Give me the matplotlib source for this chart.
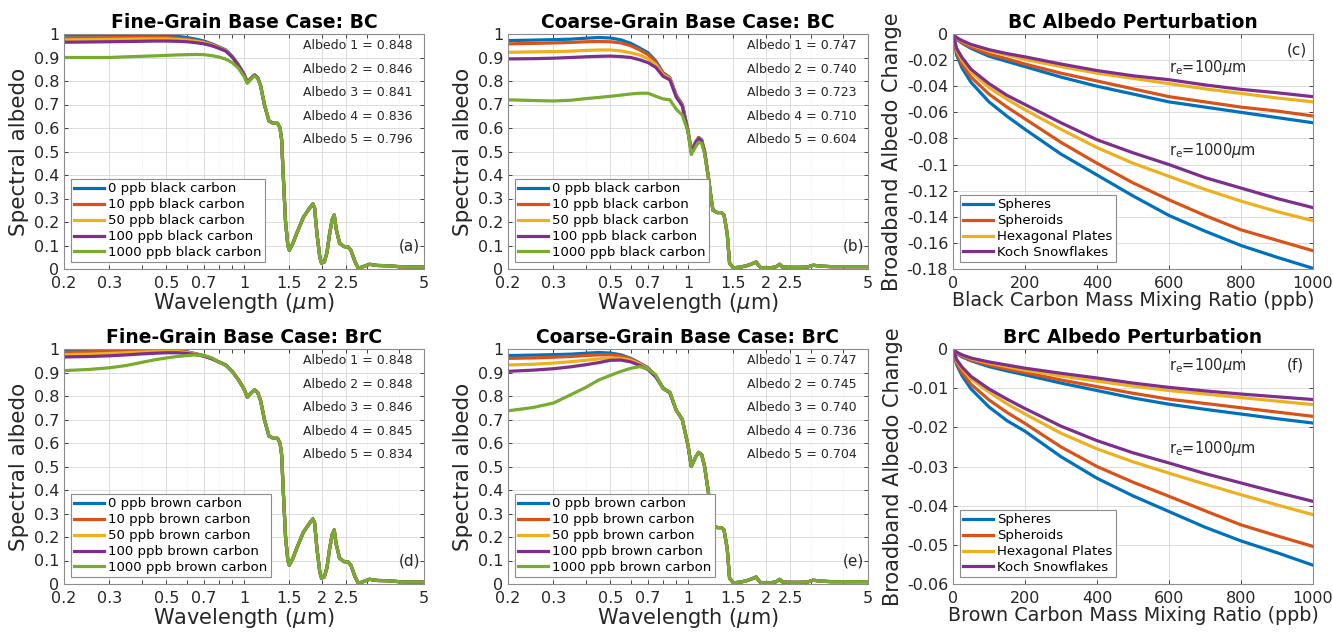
import numpy as np
import matplotlib.pyplot as plt
from matplotlib.ticker import FixedLocator, FixedFormatter, FuncFormatter, NullFormatter

plt.rcParams['font.family'] = 'DejaVu Sans'
plt.rcParams['axes.unicode_minus'] = False
plt.rcParams['mathtext.fontset'] = 'dejavusans'

cols = ['#0072BD', '#D95319', '#EDB120', '#7E2F8E', '#77AC30']

# ---- spectral albedo data (wavelength in um) ----
conc = [0, 10, 50, 100, 1000]
wl_vis = [0.2, 0.25, 0.3, 0.35, 0.4, 0.45, 0.5, 0.55, 0.6, 0.65, 0.7, 0.75,
          0.8, 0.85, 0.9, 0.95, 1.0, 1.03, 1.07, 1.1, 1.13, 1.16]

# NIR part, same for every concentration
wl_fine_tail = [1.2, 1.25, 1.3, 1.35, 1.38, 1.4, 1.42, 1.45, 1.48, 1.5, 1.55, 1.6,
                1.7, 1.8, 1.85, 1.88, 1.92, 1.97, 2.0, 2.05, 2.1, 2.15, 2.2, 2.24,
                2.28, 2.35, 2.45, 2.53, 2.6, 2.7, 2.78, 2.9, 3.07, 3.3, 3.6, 4.0, 4.5, 5.0]
fine_tail = [0.70, 0.63, 0.62, 0.62, 0.60, 0.55, 0.40, 0.20, 0.10, 0.08, 0.11, 0.15,
             0.22, 0.26, 0.277, 0.26, 0.15, 0.05, 0.025, 0.03, 0.07, 0.15, 0.21, 0.23,
             0.17, 0.11, 0.095, 0.095, 0.08, 0.03, 0.003, 0.01, 0.02, 0.015, 0.014, 0.01, 0.008, 0.008]

wl_coarse_tail = [1.2, 1.23, 1.25, 1.3, 1.35, 1.38, 1.42, 1.45, 1.5, 1.6, 1.7, 1.8,
                  1.84, 1.88, 1.92, 2.0, 2.1, 2.2, 2.27, 2.33, 2.5, 2.7, 2.9, 3.06,
                  3.3, 3.6, 4.0, 5.0]
coarse_tail = [0.39, 0.30, 0.25, 0.24, 0.24, 0.23, 0.15, 0.025, 0.005, 0.008, 0.015, 0.025,
               0.03, 0.015, 0.005, 0.005, 0.005, 0.01, 0.02, 0.008, 0.007, 0.007, 0.008, 0.016,
               0.012, 0.01, 0.01, 0.01]

fine_bc = [
    [0.995, 0.995, 0.996, 0.997, 0.998, 0.997, 0.995, 0.99, 0.985, 0.978, 0.97, 0.958, 0.945, 0.932, 0.905, 0.87, 0.83, 0.795, 0.815, 0.826, 0.815, 0.78],
    [0.982, 0.983, 0.984, 0.985, 0.986, 0.986, 0.985, 0.982, 0.978, 0.972, 0.965, 0.955, 0.943, 0.93, 0.904, 0.869, 0.829, 0.794, 0.814, 0.825, 0.814, 0.78],
    [0.975, 0.976, 0.977, 0.978, 0.979, 0.979, 0.979, 0.977, 0.974, 0.969, 0.963, 0.953, 0.941, 0.929, 0.903, 0.868, 0.828, 0.794, 0.814, 0.825, 0.814, 0.78],
    [0.965, 0.966, 0.967, 0.968, 0.969, 0.97, 0.97, 0.969, 0.967, 0.963, 0.958, 0.95, 0.939, 0.927, 0.902, 0.867, 0.828, 0.793, 0.813, 0.825, 0.814, 0.78],
    [0.90, 0.90, 0.90, 0.903, 0.905, 0.907, 0.909, 0.911, 0.912, 0.913, 0.912, 0.908, 0.902, 0.893, 0.878, 0.855, 0.82, 0.79, 0.81, 0.822, 0.812, 0.778],
]
coarse_bc = [
    [0.972, 0.974, 0.976, 0.978, 0.982, 0.985, 0.983, 0.975, 0.96, 0.94, 0.92, 0.885, 0.835, 0.815, 0.74, 0.70, 0.59, 0.50, 0.54, 0.56, 0.55, 0.50],
    [0.958, 0.96, 0.962, 0.964, 0.967, 0.968, 0.967, 0.962, 0.95, 0.932, 0.912, 0.88, 0.832, 0.813, 0.738, 0.698, 0.588, 0.50, 0.54, 0.558, 0.548, 0.50],
    [0.922, 0.924, 0.925, 0.927, 0.93, 0.932, 0.932, 0.928, 0.92, 0.91, 0.895, 0.87, 0.826, 0.81, 0.735, 0.696, 0.587, 0.498, 0.538, 0.556, 0.546, 0.498],
    [0.894, 0.895, 0.897, 0.9, 0.903, 0.905, 0.906, 0.904, 0.9, 0.89, 0.878, 0.858, 0.82, 0.805, 0.732, 0.694, 0.586, 0.497, 0.537, 0.555, 0.545, 0.497],
    [0.72, 0.717, 0.715, 0.718, 0.725, 0.73, 0.735, 0.74, 0.745, 0.748, 0.748, 0.735, 0.724, 0.72, 0.68, 0.655, 0.585, 0.487, 0.52, 0.54, 0.535, 0.49],
]
fine_brc = [
    [0.996, 0.997, 0.998, 0.998, 0.998, 0.998, 0.997, 0.994, 0.988, 0.98, 0.972, 0.96, 0.945, 0.932, 0.905, 0.87, 0.83, 0.795, 0.815, 0.826, 0.815, 0.78],
    [0.986, 0.988, 0.99, 0.992, 0.993, 0.994, 0.994, 0.992, 0.987, 0.979, 0.971, 0.96, 0.945, 0.932, 0.905, 0.87, 0.83, 0.795, 0.815, 0.826, 0.815, 0.78],
    [0.976, 0.978, 0.981, 0.984, 0.987, 0.989, 0.99, 0.989, 0.985, 0.978, 0.97, 0.959, 0.945, 0.932, 0.905, 0.87, 0.83, 0.795, 0.815, 0.826, 0.815, 0.78],
    [0.966, 0.968, 0.971, 0.975, 0.979, 0.982, 0.984, 0.984, 0.981, 0.976, 0.969, 0.958, 0.944, 0.931, 0.904, 0.87, 0.83, 0.795, 0.815, 0.826, 0.815, 0.78],
    [0.908, 0.913, 0.92, 0.93, 0.943, 0.954, 0.962, 0.968, 0.972, 0.975, 0.972, 0.962, 0.943, 0.93, 0.904, 0.869, 0.83, 0.795, 0.815, 0.826, 0.815, 0.78],
]
coarse_brc = [
    [0.972, 0.974, 0.976, 0.978, 0.982, 0.985, 0.983, 0.975, 0.96, 0.94, 0.92, 0.885, 0.835, 0.815, 0.74, 0.70, 0.59, 0.50, 0.54, 0.56, 0.55, 0.50],
    [0.96, 0.962, 0.965, 0.968, 0.972, 0.975, 0.975, 0.97, 0.958, 0.938, 0.918, 0.884, 0.834, 0.815, 0.74, 0.70, 0.59, 0.50, 0.54, 0.56, 0.55, 0.50],
    [0.932, 0.935, 0.94, 0.946, 0.952, 0.958, 0.962, 0.96, 0.952, 0.935, 0.916, 0.883, 0.833, 0.814, 0.74, 0.70, 0.59, 0.50, 0.54, 0.56, 0.55, 0.50],
    [0.905, 0.91, 0.916, 0.924, 0.933, 0.942, 0.952, 0.953, 0.945, 0.93, 0.912, 0.881, 0.832, 0.814, 0.739, 0.70, 0.59, 0.50, 0.54, 0.56, 0.55, 0.50],
    [0.737, 0.751, 0.77, 0.805, 0.836, 0.868, 0.888, 0.905, 0.918, 0.925, 0.915, 0.89, 0.83, 0.818, 0.738, 0.70, 0.59, 0.50, 0.54, 0.56, 0.55, 0.50],
]

alb_fine_bc = ['0.848', '0.846', '0.841', '0.836', '0.796']
alb_coarse_bc = ['0.747', '0.740', '0.723', '0.710', '0.604']
alb_fine_brc = ['0.848', '0.848', '0.846', '0.845', '0.834']
alb_coarse_brc = ['0.747', '0.745', '0.740', '0.736', '0.704']

# ---- broadband albedo change vs mixing ratio (ppb) ----
mix = [0, 10, 25, 50, 100, 150, 200, 300, 400, 500, 600, 700, 800, 900, 1000]
shapes = ['Spheres', 'Spheroids', 'Hexagonal Plates', 'Koch Snowflakes']

bc_re100 = [
    [0, -0.004, -0.007, -0.011, -0.017, -0.021, -0.025, -0.033, -0.040, -0.046, -0.052, -0.056, -0.060, -0.064, -0.068],
    [0, -0.0035, -0.0065, -0.010, -0.0155, -0.019, -0.023, -0.030, -0.036, -0.042, -0.048, -0.052, -0.056, -0.059, -0.0628],
    [0, -0.003, -0.0055, -0.0085, -0.013, -0.016, -0.0195, -0.025, -0.030, -0.034, -0.038, -0.042, -0.0455, -0.049, -0.052],
    [0, -0.0028, -0.005, -0.008, -0.012, -0.015, -0.0175, -0.023, -0.028, -0.032, -0.035, -0.039, -0.0424, -0.045, -0.048],
]
bc_re1000 = [
    [0, -0.016, -0.026, -0.037, -0.052, -0.063, -0.073, -0.092, -0.108, -0.124, -0.139, -0.151, -0.162, -0.171, -0.1795],
    [0, -0.014, -0.023, -0.033, -0.046, -0.056, -0.065, -0.083, -0.099, -0.114, -0.127, -0.139, -0.150, -0.158, -0.166],
    [0, -0.012, -0.020, -0.029, -0.041, -0.050, -0.058, -0.073, -0.087, -0.099, -0.109, -0.119, -0.128, -0.136, -0.143],
    [0, -0.011, -0.018, -0.027, -0.038, -0.047, -0.054, -0.068, -0.081, -0.091, -0.100, -0.110, -0.118, -0.126, -0.133],
]
brc_re100 = [
    [0, -0.0011, -0.002, -0.003, -0.0045, -0.0056, -0.0066, -0.0087, -0.0106, -0.0125, -0.0141, -0.0154, -0.0166, -0.0178, -0.0189],
    [0, -0.001, -0.0018, -0.0028, -0.0041, -0.0051, -0.006, -0.0079, -0.0096, -0.0113, -0.0128, -0.0139, -0.015, -0.0161, -0.0172],
    [0, -0.0009, -0.0016, -0.0025, -0.0036, -0.0045, -0.0054, -0.0069, -0.0082, -0.0095, -0.0106, -0.0115, -0.0124, -0.0133, -0.0142],
    [0, -0.0008, -0.0015, -0.0023, -0.0033, -0.0041, -0.0049, -0.0062, -0.0074, -0.0087, -0.0098, -0.0107, -0.0115, -0.0122, -0.0129],
]
brc_re1000 = [
    [0, -0.004, -0.0068, -0.0102, -0.0148, -0.0183, -0.021, -0.0275, -0.033, -0.0375, -0.0415, -0.0455, -0.049, -0.052, -0.0552],
    [0, -0.0036, -0.006, -0.009, -0.013, -0.0162, -0.019, -0.025, -0.030, -0.034, -0.0376, -0.0413, -0.0449, -0.0477, -0.0504],
    [0, -0.003, -0.005, -0.0076, -0.011, -0.014, -0.0166, -0.0215, -0.0255, -0.0288, -0.0317, -0.0345, -0.0372, -0.0398, -0.0423],
    [0, -0.0027, -0.0046, -0.007, -0.0102, -0.0128, -0.0152, -0.0197, -0.0234, -0.0265, -0.0291, -0.0318, -0.0342, -0.0366, -0.0389],
]

dark = '#262626'
W, H = 1333, 632
fig = plt.figure(figsize=(W / 100, H / 100), dpi=100)


def new_axes(col, row):
    lefts = [64, 508, 953]
    tops = [34, 349]
    return fig.add_axes([lefts[col] / W, 1 - (tops[row] + 235) / H, 360 / W, 235 / H])


def style(ax):
    for s in ax.spines.values():
        s.set_color('#8c8c8c')
        s.set_linewidth(0.8)
    ax.tick_params(which='both', direction='in', top=True, right=True,
                   colors=dark, labelsize=11.5, length=3, width=0.6)
    ax.tick_params(axis='x', pad=5)
    ax.grid(True, which='major', color='#dcdcdc', lw=0.7)
    ax.set_axisbelow(True)


def add_legend(ax):
    leg = ax.legend(loc='lower left', fontsize=9.5, handlelength=2.3, labelspacing=0.22,
                    borderpad=0.25, handletextpad=0.3, borderaxespad=0.5,
                    fancybox=False, framealpha=1)
    leg.get_frame().set_edgecolor('#8c8c8c')
    leg.get_frame().set_linewidth(0.8)


def spectral(ax, rows, twl, tail, species, title, albs, letter):
    for i, r in enumerate(rows):
        ax.plot(wl_vis + twl, r + tail, color=cols[i], lw=2.3,
                label=f'{conc[i]} ppb {species}')
    ax.set_xscale('log')
    ax.set_xlim(0.2, 5)
    ax.set_ylim(0, 1)
    style(ax)
    ax.xaxis.set_major_locator(FixedLocator([0.2, 0.3, 0.5, 0.7, 1, 1.5, 2, 2.5, 5]))
    ax.xaxis.set_major_formatter(FixedFormatter(['0.2', '0.3', '0.5', '0.7', '1', '1.5', '2', '2.5', '5']))
    ax.xaxis.set_minor_locator(FixedLocator([0.4, 0.6, 0.8, 0.9, 3, 4]))
    ax.xaxis.set_minor_formatter(NullFormatter())
    ax.grid(True, which='minor', axis='x', color='#e4e4e4', lw=0.6, ls=':')
    ax.set_yticks(np.arange(0, 1.01, 0.1))
    ax.yaxis.set_major_formatter(FuncFormatter(lambda v, p: '%g' % (round(v, 2) + 0.0)))
    ax.set_xlabel('Wavelength ($\\mu$m)', fontsize=15, color=dark, labelpad=0)
    ax.set_ylabel('Spectral albedo', fontsize=15.5, color=dark, labelpad=3)
    ax.set_title(title, fontsize=13.5, fontweight='bold', pad=4)
    for k, a in enumerate(albs):
        ax.text(1.7, 0.95 - 0.1 * k, f'Albedo {k + 1} = {a}', fontsize=9,
                color=dark, va='center')
    ax.text(4.0, 0.1, letter, fontsize=11, color=dark, va='center')
    add_legend(ax)


def perturb(ax, r100, r1000, ymin, ystep, carbon, title, letter, t100, t1000):
    for i in range(4):
        ax.plot(mix, r100[i], color=cols[i], lw=2.3, label=shapes[i])
    for i in range(4):
        ax.plot(mix, r1000[i], color=cols[i], lw=2.3)
    ax.set_xlim(0, 1000)
    ax.set_ylim(ymin, 0)
    style(ax)
    ax.set_xticks(np.arange(0, 1001, 200))
    ax.set_yticks(np.arange(ymin, 0.0001, ystep))
    ax.yaxis.set_major_formatter(FuncFormatter(lambda v, p: '%g' % (round(v, 3) + 0.0)))
    ax.set_xlabel(f'{carbon} Carbon Mass Mixing Ratio (ppb)', fontsize=13.8, color=dark, labelpad=0)
    ax.set_ylabel('Broadband Albedo Change', fontsize=15, color=dark, labelpad=3)
    ax.set_title(title, fontsize=13.5, fontweight='bold', pad=4)
    ax.text(0.927, 0.93, letter, transform=ax.transAxes, fontsize=11, color=dark, va='center')
    ax.text(600, t100, 'r$_\\mathregular{e}$=100$\\mu$m', fontsize=10.5, color=dark, va='center')
    ax.text(600, t1000, 'r$_\\mathregular{e}$=1000$\\mu$m', fontsize=10.5, color=dark, va='center')
    add_legend(ax)


spectral(new_axes(0, 0), fine_bc, wl_fine_tail, fine_tail, 'black carbon',
         'Fine-Grain Base Case: BC', alb_fine_bc, '(a)')
spectral(new_axes(1, 0), coarse_bc, wl_coarse_tail, coarse_tail, 'black carbon',
         'Coarse-Grain Base Case: BC', alb_coarse_bc, '(b)')
perturb(new_axes(2, 0), bc_re100, bc_re1000, -0.18, 0.02, 'Black',
        'BC Albedo Perturbation', '(c)', -0.026, -0.089)
spectral(new_axes(0, 1), fine_brc, wl_fine_tail, fine_tail, 'brown carbon',
         'Fine-Grain Base Case: BrC', alb_fine_brc, '(d)')
spectral(new_axes(1, 1), coarse_brc, wl_coarse_tail, coarse_tail, 'brown carbon',
         'Coarse-Grain Base Case: BrC', alb_coarse_brc, '(e)')
perturb(new_axes(2, 1), brc_re100, brc_re1000, -0.06, 0.01, 'Brown',
        'BrC Albedo Perturbation', '(f)', -0.0043, -0.0254)

fig.savefig('out.png', dpi=100)
